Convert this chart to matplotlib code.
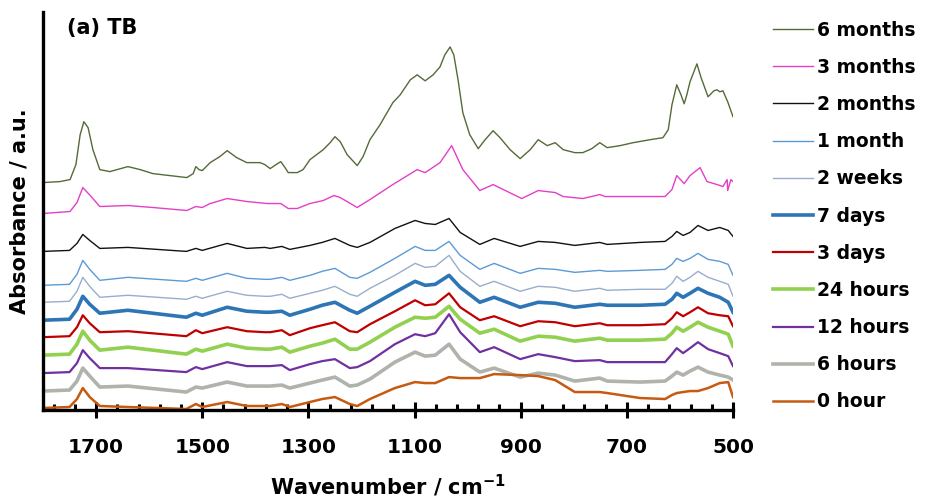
"""FTIR spectra of TB over ageing time, stacked (recreated figure)."""
import matplotlib
matplotlib.use("Agg")
import matplotlib.pyplot as plt
from matplotlib.ticker import FixedLocator

plt.rcParams.update({
    "font.family": "DejaVu Sans", "font.weight": "bold",
    "axes.labelweight": "bold", "figure.facecolor": "white",
})

# shared wavenumber grid (cm-1) for the nine lower spectra
WN = [1800, 1750, 1736, 1725, 1712, 1693, 1640, 1530, 1512, 1500, 1453, 1416,
      1382, 1372, 1350, 1335, 1297, 1274, 1250, 1222, 1208, 1184, 1137, 1099,
      1080, 1061, 1035, 1014, 977, 950, 901, 867, 835, 798, 751, 737, 675, 628,
      615, 606, 594, 581, 566, 547, 525, 509, 500]

# stacked absorbance (a.u., offset included)
m2 = [158, 159, 166, 175, 169, 161, 162, 158, 161, 159, 166, 161, 162, 161, 163, 160,
      164, 167, 171, 164, 162, 167, 181, 189, 186, 185, 191, 177, 165, 171, 163, 168,
      167, 164, 167, 165, 167, 168, 173, 178, 174, 177, 184, 179, 182, 179, 173]
m1 = [124, 125, 135, 149, 140, 129, 132, 128, 131, 129, 136, 131, 130, 130, 132, 129,
      134, 138, 141, 132, 131, 137, 151, 163, 159, 159, 168, 154, 140, 146, 136, 141,
      140, 137, 139, 138, 139, 140, 145, 151, 148, 151, 156, 150, 148, 145, 134]
w2 = [107, 108, 118, 132, 123, 112, 114, 110, 113, 111, 118, 114, 113, 113, 115, 111,
      116, 119, 123, 115, 113, 121, 134, 146, 142, 143, 154, 138, 123, 128, 118, 123,
      122, 118, 121, 119, 120, 120, 126, 133, 128, 132, 138, 132, 128, 125, 113]
d7 = [89, 90, 100, 113, 105, 96, 99, 92, 96, 94, 102, 98, 97, 97, 98, 94,
      100, 104, 107, 99, 96, 103, 117, 128, 124, 125, 134, 122, 107, 112, 102, 107,
      106, 102, 105, 104, 104, 105, 110, 116, 112, 116, 121, 116, 112, 107, 97]
d3 = [72, 73, 82, 94, 86, 77, 78, 73, 79, 76, 82, 78, 77, 77, 79, 74,
      81, 84, 87, 78, 77, 85, 98, 109, 104, 105, 116, 102, 89, 93, 83, 88,
      87, 83, 86, 84, 84, 85, 91, 97, 93, 97, 102, 96, 94, 93, 83]
h24 = [54, 55, 65, 78, 69, 59, 62, 55, 60, 58, 65, 61, 60, 60, 62, 57,
       63, 66, 70, 60, 60, 67, 82, 92, 91, 92, 103, 90, 76, 80, 68, 73,
       72, 68, 71, 69, 69, 70, 76, 82, 78, 82, 87, 82, 78, 75, 63]
h12 = [36, 37, 46, 59, 51, 41, 41, 37, 42, 40, 47, 43, 43, 43, 44, 39,
       45, 48, 50, 41, 42, 48, 65, 75, 73, 76, 95, 77, 57, 62, 50, 55,
       52, 48, 49, 47, 47, 47, 55, 61, 56, 61, 67, 60, 56, 53, 43]
h6 = [18, 19, 28, 41, 33, 22, 23, 17, 22, 21, 27, 23, 23, 23, 24, 21,
      26, 29, 32, 23, 24, 30, 47, 57, 53, 54, 65, 50, 37, 41, 32, 36,
      34, 28, 31, 28, 27, 28, 33, 37, 34, 38, 42, 37, 34, 32, 29]
h0 = [1, 2, 10, 21, 12, 3, 2, 0, 5, 2, 7, 3, 3, 3, 5, 2,
      7, 10, 12, 5, 3, 10, 21, 27, 26, 26, 32, 31, 31, 35, 34, 33,
      29, 17, 17, 16, 11, 10, 14, 16, 17, 18, 18, 21, 26, 27, 12]

# 3 months
WN_M3 = [1800, 1749, 1736, 1725, 1711, 1693, 1640, 1593, 1529, 1512, 1500, 1485,
         1453, 1416, 1378, 1352, 1338, 1321, 1297, 1272, 1252, 1240, 1208, 1184,
         1141, 1095, 1080, 1052, 1030, 1009, 977, 952, 898, 867, 835, 820, 783,
         751, 741, 688, 628, 615, 606, 592, 581, 562, 549, 530, 519, 511, 510,
         504, 500]
m3 = [196, 198, 207, 222, 214, 203, 204, 202, 199, 203, 202, 206,
      211, 208, 206, 206, 201, 201, 206, 209, 214, 212, 202, 210,
      225, 240, 237, 247, 264, 240, 219, 225, 211, 219, 217, 213, 211,
      215, 213, 213, 213, 220, 234, 226, 234, 242, 228, 225, 223, 230, 219,
      230, 228]

# 6 months
WN_M6 = [1800, 1768, 1749, 1738, 1730, 1723, 1715, 1706, 1693, 1674, 1640, 1617,
         1593, 1561, 1529, 1517, 1512, 1506, 1500, 1485, 1467, 1453, 1435, 1416,
         1391, 1382, 1372, 1361, 1352, 1344, 1338, 1321, 1310, 1297, 1272, 1259,
         1250, 1240, 1227, 1208, 1197, 1184, 1165, 1141, 1127, 1108, 1095, 1080,
         1065, 1052, 1043, 1033, 1026, 1018, 1009, 996, 980, 967, 952, 939, 920,
         901, 882, 867, 850, 835, 820, 798, 783, 766, 751, 737, 713, 688, 656,
         632, 622, 615, 606, 598, 592, 587, 581, 568, 560, 547, 536, 530, 525,
         519, 510, 500]
m6 = [227, 228, 230, 245, 275, 288, 282, 260, 240, 238, 243, 240,
      236, 234, 232, 236, 243, 240, 239, 247, 253, 259, 252, 247,
      247, 245, 241, 245, 248, 242, 237, 237, 240, 250, 260, 267,
      273, 268, 255, 244, 253, 270, 285, 307, 315, 330, 335, 329,
      335, 343, 355, 363, 355, 330, 297, 275, 261, 270, 279, 272, 260,
      251, 260, 270, 264, 267, 260, 257, 257, 261, 267, 262, 264, 267, 270,
      272, 280, 305, 325, 315, 306, 315, 328, 346, 332, 313, 319, 320, 318,
      319, 308, 293]

# legend order top -> bottom: (label, values, wavenumbers, colour, width)
SERIES = [
    ("6 months", m6, WN_M6, "#546B37", 1.0),
    ("3 months", m3, WN_M3, "#E43FC6", 1.0),
    ("2 months", m2, WN, "#111111", 1.0),
    ("1 month", m1, WN, "#5B9BD5", 1.0),
    ("2 weeks", w2, WN, "#98AECB", 1.0),
    ("7 days", d7, WN, "#2E75B6", 2.6),
    ("3 days", d3, WN, "#C00000", 1.6),
    ("24 hours", h24, WN, "#92D050", 2.6),
    ("12 hours", h12, WN, "#7030A0", 1.6),
    ("6 hours", h6, WN, "#AFB3AC", 2.6),
    ("0 hour", h0, WN, "#C65A11", 1.8),
]

fig = plt.figure(figsize=(9.27, 4.99), dpi=100)
ax = fig.add_axes([43 / 927, 89 / 499, 690 / 927, 398 / 499])

handles = []
for label, vals, wn, col, lw in SERIES:
    ln, = ax.plot(wn, vals, color=col, lw=lw, label=label)
    handles.append(ln)

ax.set_xlim(1800, 500)
ax.set_ylim(-1, 398)
ax.xaxis.set_major_locator(FixedLocator(range(500, 1701, 200)))
ax.xaxis.set_minor_locator(FixedLocator(range(500, 1801, 40)))
ax.tick_params(axis="x", which="major", direction="inout", length=11, width=2.2,
               labelsize=14.5, pad=15)
ax.tick_params(axis="x", which="minor", direction="in", length=4, width=2.2)
ax.set_yticks([])
for s in ("top", "right"):
    ax.spines[s].set_visible(False)
for s in ("left", "bottom"):
    ax.spines[s].set_linewidth(2.4)

ax.set_xlabel("Wavenumber / cm$^{\\mathbf{-1}}$", fontsize=15, labelpad=11)
ax.set_ylabel("Absorbance / a.u.", fontsize=15, labelpad=10)
ax.text(0.035, 0.96, "(a) TB", transform=ax.transAxes, fontsize=15,
        va="center", ha="left")

fig.legend(handles=handles, loc="upper left", bbox_to_anchor=(760 / 927, 0.985),
           frameon=False, fontsize=13.5, handlelength=2.13, handletextpad=0.2,
           labelspacing=0.97, borderaxespad=0.3)

fig.savefig("out.png", dpi=100)
